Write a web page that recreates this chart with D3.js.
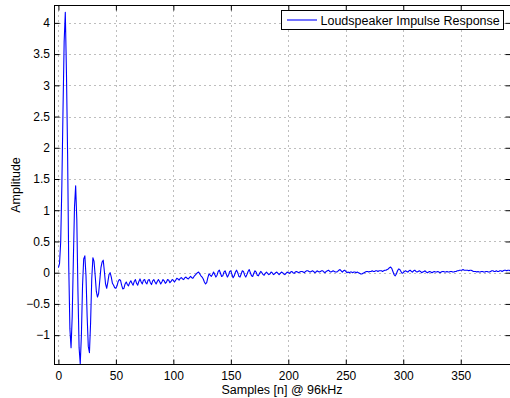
<!DOCTYPE html>
<html>
<head>
<meta charset="utf-8">
<script src="https://cdn.jsdelivr.net/npm/d3@7"></script>
<style>
  body { margin: 0; background: #fff; }
  svg { display: block; }
  text { font-family: "Liberation Sans", Arial, Helvetica, sans-serif; fill: #000; }
</style>
</head>
<body>
<svg id="chart" width="510" height="398"></svg>
<script>
// Impulse response samples, n = 0 .. 393
const response = [
  0.08, 0.15, 0.5, 1.4, 2.6, 3.7, 4.17, 3.2, 1.9, 0.1,
  -0.9, -1.2, -0.7, 0.2, 1.05, 1.39, 0.85, -0.3, -1.2, -1.46,
  -1.0, -0.2, 0.22, 0.27, -0.05, -0.7, -1.18, -1.28, -0.8, -0.1,
  0.24, 0.18, -0.05, -0.3, -0.39, -0.33, -0.12, 0.08, 0.17, 0.2,
  0.02, -0.18, -0.25, -0.15, -0.03, 0.0, -0.07, -0.17, -0.2, -0.24,
  -0.25, -0.21, -0.14, -0.11, -0.12, -0.2, -0.26, -0.25, -0.18, -0.15,
  -0.19, -0.21, -0.16, -0.13, -0.17, -0.2, -0.14, -0.11, -0.17, -0.2,
  -0.14, -0.1, -0.15, -0.18, -0.12, -0.11, -0.16, -0.18, -0.12, -0.11,
  -0.16, -0.19, -0.13, -0.11, -0.15, -0.18, -0.14, -0.11, -0.14, -0.18,
  -0.15, -0.11, -0.13, -0.17, -0.15, -0.11, -0.12, -0.16, -0.14, -0.11,
  -0.12, -0.15, -0.12, -0.09, -0.1, -0.12, -0.09, -0.08, -0.1, -0.11,
  -0.08, -0.07, -0.09, -0.1, -0.08, -0.06, -0.08, -0.09, -0.06, -0.04,
  -0.02, 0.0, 0.01, -0.02, -0.05, -0.07, -0.1, -0.15, -0.18, -0.16,
  -0.08, -0.02, -0.04, -0.06, -0.03, 0.01, -0.03, -0.07, -0.04, 0.02,
  0.04, -0.01, -0.06, -0.05, 0.01, 0.03, -0.02, -0.07, -0.04, 0.02,
  0.03, -0.03, -0.08, -0.05, 0.01, 0.04, 0.0, -0.06, -0.07, -0.02,
  0.03, 0.02, -0.04, -0.07, -0.03, 0.02, 0.05, 0.0, -0.05, -0.06,
  -0.01, 0.03, 0.01, -0.04, -0.05, -0.01, 0.02, 0.0, -0.03, -0.04,
  -0.01, 0.01, -0.01, -0.03, -0.02, 0.01, 0.0, -0.03, -0.02, 0.0,
  0.01, -0.01, -0.03, -0.01, 0.01, 0.0, -0.02, -0.03, -0.01, 0.01,
  0.0, -0.01, 0.01, 0.02, 0.0, -0.01, 0.01, 0.02, 0.01, 0.0,
  0.01, 0.02, 0.02, 0.01, 0.0, 0.02, 0.03, 0.03, 0.02, 0.01,
  0.02, 0.03, 0.02, 0.0, 0.01, 0.03, 0.02, 0.01, 0.02, 0.03,
  0.03, 0.01, 0.0, 0.02, 0.03, 0.04, 0.02, 0.01, 0.02, 0.03,
  0.02, 0.01, 0.01, 0.02, 0.04, 0.05, 0.03, 0.01, 0.03, 0.04,
  0.02, 0.0, 0.01, 0.0, 0.01, 0.01, 0.0, 0.01, 0.01, 0.0,
  0.01, 0.0, -0.01, -0.02, -0.02, -0.01, 0.0, 0.01, 0.02, 0.02,
  0.01, 0.02, 0.02, 0.03, 0.02, 0.02, 0.03, 0.03, 0.02, 0.03,
  0.03, 0.03, 0.02, 0.03, 0.04, 0.04, 0.05, 0.06, 0.08, 0.09,
  0.07, 0.02, -0.03, -0.05, -0.02, 0.03, 0.06, 0.05, 0.02, -0.01,
  0.0, 0.02, 0.03, 0.02, 0.01, 0.03, 0.04, 0.02, 0.01, 0.03,
  0.04, 0.02, 0.01, 0.02, 0.03, 0.02, 0.0, 0.01, 0.02, 0.03,
  0.01, 0.0, 0.01, 0.02, 0.01, 0.0, 0.01, 0.02, 0.01, 0.01,
  0.02, 0.01, 0.0, 0.01, 0.02, 0.02, 0.01, 0.01, 0.02, 0.01,
  0.01, 0.02, 0.02, 0.01, 0.01, 0.02, 0.02, 0.03, 0.03, 0.04,
  0.04, 0.04, 0.05, 0.04, 0.04, 0.04, 0.04, 0.03, 0.04, 0.04,
  0.03, 0.02, 0.02, 0.02, 0.01, 0.02, 0.01, 0.01, 0.02, 0.02,
  0.01, 0.01, 0.02, 0.02, 0.01, 0.01, 0.02, 0.03, 0.03, 0.02,
  0.02, 0.03, 0.02, 0.02, 0.03, 0.03, 0.02, 0.03, 0.04, 0.04,
  0.03, 0.04, 0.04, 0.03
];

const xTicks = [0, 50, 100, 150, 200, 250, 300, 350];
const yTicks = [-1, -0.5, 0, 0.5, 1, 1.5, 2, 2.5, 3, 3.5, 4];
const seriesName = "Loudspeaker Impulse Response";
const xTitle = "Samples [n] @ 96kHz";
const yTitle = "Amplitude";

const svg = d3.select("#chart");
const box = { left: 54.5, right: 510.5, top: 5.5, bottom: 364.5 };

const x = d3.scaleLinear().domain([-3.4, 393.3]).range([box.left, box.right]);
const y = d3.scaleLinear().domain([-1.47, 4.278]).range([box.bottom, box.top]);

const fmt = d => (d < 0 ? "\u2212" : "") + Math.abs(d);

// dotted grid
const grid = svg.append("g")
  .attr("stroke", "#7d7d7d")
  .attr("stroke-width", 1)
  .attr("stroke-dasharray", "1,4");
grid.selectAll(".gx").data(xTicks).join("line")
  .attr("x1", d => Math.round(x(d)) + 0.5).attr("x2", d => Math.round(x(d)) + 0.5)
  .attr("y1", box.top).attr("y2", box.bottom);
grid.selectAll(".gy").data(yTicks).join("line")
  .attr("y1", d => Math.round(y(d)) + 0.5).attr("y2", d => Math.round(y(d)) + 0.5)
  .attr("x1", box.left).attr("x2", box.right);

// response trace
svg.append("clipPath").attr("id", "plotclip")
  .append("rect")
  .attr("x", box.left).attr("y", box.top)
  .attr("width", box.right - box.left).attr("height", box.bottom - box.top);

const line = d3.line().x((d, i) => x(i)).y(d => y(d));
svg.append("path")
  .datum(response)
  .attr("clip-path", "url(#plotclip)")
  .attr("fill", "none")
  .attr("stroke", "#0000ff")
  .attr("stroke-width", 1.1)
  .attr("stroke-linejoin", "round")
  .attr("d", line);

// axes with inward ticks on all four sides
const tickLen = 5;
function styleAxis(g) {
  g.select(".domain").remove();
  g.selectAll(".tick line").attr("stroke", "#000");
  g.selectAll(".tick text").attr("font-size", 12).attr("fill", "#000")
    .attr("font-family", '"Liberation Sans", Arial, Helvetica, sans-serif');
}

svg.append("g")
  .attr("transform", `translate(0,${box.bottom})`)
  .call(d3.axisBottom(x).tickValues(xTicks).tickFormat(fmt)
    .tickSizeInner(-tickLen).tickSizeOuter(0).tickPadding(7))
  .call(styleAxis);

svg.append("g")
  .attr("transform", `translate(0,${box.top})`)
  .call(d3.axisTop(x).tickValues(xTicks).tickFormat("")
    .tickSizeInner(-tickLen).tickSizeOuter(0))
  .call(styleAxis);

svg.append("g")
  .attr("transform", `translate(${box.left},0)`)
  .call(d3.axisLeft(y).tickValues(yTicks).tickFormat(fmt)
    .tickSizeInner(-tickLen).tickSizeOuter(0).tickPadding(4.5))
  .call(styleAxis);

svg.append("g")
  .attr("transform", `translate(${box.right},0)`)
  .call(d3.axisRight(y).tickValues(yTicks).tickFormat("")
    .tickSizeInner(-tickLen).tickSizeOuter(0))
  .call(styleAxis);

// axes box
svg.append("rect")
  .attr("x", box.left).attr("y", box.top)
  .attr("width", box.right - box.left).attr("height", box.bottom - box.top)
  .attr("fill", "none").attr("stroke", "#000").attr("stroke-width", 1);

// axis titles
svg.append("text")
  .attr("x", (box.left + box.right) / 2 - 0.5)
  .attr("y", 394)
  .attr("text-anchor", "middle")
  .attr("font-size", 12.5)
  .text(xTitle);

svg.append("text")
  .attr("transform", `translate(19.5,${(box.top + box.bottom) / 2}) rotate(-90)`)
  .attr("text-anchor", "middle")
  .attr("font-size", 12.5)
  .text(yTitle);

// legend
const legend = svg.append("g");
legend.append("rect")
  .attr("x", 281.5).attr("y", 10.5).attr("width", 222).attr("height", 19)
  .attr("fill", "#fff").attr("stroke", "#000").attr("stroke-width", 1);
legend.append("line")
  .attr("x1", 287).attr("x2", 317).attr("y1", 20).attr("y2", 20)
  .attr("stroke", "#0000ff").attr("stroke-width", 1.1);
legend.append("text")
  .attr("x", 320.5).attr("y", 24.5)
  .attr("font-size", 12.5)
  .text(seriesName);
</script>
</body>
</html>
